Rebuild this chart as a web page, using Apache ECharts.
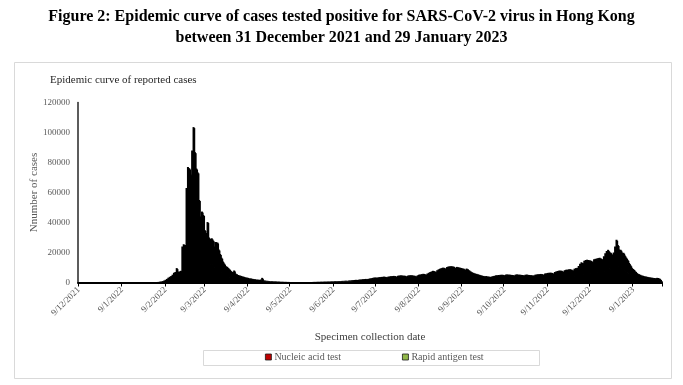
<!DOCTYPE html>
<html>
<head>
<meta charset="utf-8">
<script src="https://cdn.jsdelivr.net/npm/echarts@6/dist/echarts.min.js"></script>
<style>
html,body{margin:0;padding:0;background:#fff;}
#chart{width:683px;height:385px;}
</style>
</head>
<body>
<div id="chart"></div>
<script>
// ---- Data (daily cases by specimen collection date) ----
const axisStart = [2021, 12, 9];   // first category on the axis (9/12/2021)
const axisEnd = [2023, 1, 29];     // last category on the axis (29/1/2023)

const nucleicStart = '31/12/2021';
const nucleicTest = [
  5,
  // Jan 2022
  8,6,10,12,15,20,18,22,30,28,25,30,28,35,40,45,50,55,60,70,85,95,100,110,120,130,140,150,160,170,180,
  // Feb 2022 (1-25 all nucleic acid), 26-28
  200,260,330,420,550,700,950,1300,1800,2400,3200,3800,4300,5200,6500,7000,9600,7200,7400,7800,24000,25500,25000,63000,77000,46000,40000,48000,
  // Mar 2022
  55000,45000,38000,35000,25000,19000,21000,20000,15000,14000,17000,12500,12000,12500,11500,10000,11000,10700,9000,7500,6500,5500,5000,4400,4200,3800,3400,3000,2800,3200,2400,
  // Apr 2022
  2500,2200,2100,2000,1800,1700,1600,1500,1400,1300,1200,1100,1000,1000,900,850,800,900,1400,700,600,550,500,450,400,380,360,340,320,300,
  // May 2022
  270,250,230,220,200,190,180,170,160,150,140,130,130,120,120,110,120,120,130,130,140,140,150,160,170,180,190,200,220,230,240,
  // Jun 2022
  250,260,270,290,280,310,320,340,360,380,400,400,430,450,470,500,520,540,520,590,630,680,720,770,810,770,860,900,950,990,
  // Jul 2022
  1040,1080,1040,1130,1220,1310,1400,1490,1530,1440,1580,1620,1670,1710,1760,1710,1620,1760,1850,1890,1940,1980,1940,1800,2030,2120,2160,2120,2070,2030,1890,
  // Aug 2022
  2070,2160,2210,2160,2120,2030,1890,2160,2340,2430,2520,2610,2570,2390,2700,2930,3150,3330,3510,3420,3240,3690,3960,4140,4320,4460,4410,4230,4640,4820,4860,
  // Sep 2022
  4910,4860,4730,4410,4680,4590,4500,4370,4280,4140,3870,4190,3960,3600,3290,3060,2880,2700,2610,2480,2340,2210,2070,1980,1890,1940,1850,1760,1710,1800,
  // Oct 2022
  1940,2030,2160,2210,2250,2300,2340,2300,2210,2390,2430,2390,2340,2300,2250,2160,2390,2430,2390,2340,2300,2250,2160,2340,2390,2300,2250,2210,2160,2120,2340,
  // Nov 2022
  2430,2480,2520,2570,2520,2390,2700,2790,2880,2930,2970,2880,2750,3150,3330,3470,3560,3600,3510,3290,3690,3830,3870,3960,4010,3870,3650,4140,4320,4410,
  // Dec 2022
  4950,5630,6080,5850,6530,6750,6840,6750,6660,6530,6260,6980,7110,7200,7340,7430,7200,6980,7880,8780,9450,9810,9230,8910,8330,9000,10800,12830,11250,9900,9810,
  // Jan 2023
  9000,8910,8100,7430,6800,5850,5180,4410,4050,3600,3150,2700,2520,2340,2120,2030,1890,1800,1710,1620,1530,1490,1400,1350,1310,1400,1350,1130,720
];

const rapidAntigenStart = '26/2/2022';
const rapidAntigenTest = [
  // Feb 2022 (26-28)
  30000,32000,40000,
  // Mar 2022
  48600,41900,38000,38400,30000,25000,26300,25000,20000,19000,23300,17500,17000,17000,16500,14000,16000,16000,13000,11500,10000,8500,7500,6600,6300,5700,5100,4500,4200,4800,3600,
  // Apr 2022
  3000,2800,2600,2400,2300,2100,1900,1800,1700,1500,1500,1400,1300,1200,1100,1050,1000,1100,1700,800,700,650,600,550,500,470,440,410,380,350,
  // May 2022
  330,300,270,260,250,230,220,210,190,180,160,160,150,150,140,140,140,150,150,160,160,170,180,190,200,220,230,250,260,270,280,
  // Jun 2022
  300,320,330,350,340,370,400,420,440,470,500,480,520,550,580,600,630,660,630,710,770,820,880,930,990,930,1040,1100,1150,1210,
  // Jul 2022
  1260,1320,1260,1370,1480,1590,1700,1810,1870,1760,1920,1980,2030,2090,2140,2090,1980,2140,2250,2310,2360,2420,2360,2200,2470,2580,2640,2580,2530,2470,2310,
  // Aug 2022
  2530,2640,2690,2640,2580,2470,2310,2640,2860,2970,3080,3190,3130,2910,3300,3570,3850,4070,4290,4180,3960,4510,4840,5060,5280,5440,5390,5170,5660,5880,5940,
  // Sep 2022
  5990,5940,5770,5390,5720,5610,5500,5330,5220,5060,4730,5110,4840,4400,4010,3740,3520,3300,3190,3020,2860,2690,2530,2420,2310,2360,2250,2140,2090,2200,
  // Oct 2022
  2360,2470,2640,2690,2750,2800,2860,2800,2690,2910,2970,2910,2860,2800,2750,2640,2910,2970,2910,2860,2800,2750,2640,2860,2910,2800,2750,2690,2640,2580,2860,
  // Nov 2022
  2970,3020,3080,3130,3080,2910,3300,3410,3520,3570,3630,3520,3350,3850,4070,4230,4340,4400,4290,4010,4510,4670,4730,4840,4890,4730,4450,5060,5280,5390,
  // Dec 2022
  6050,6870,7420,7150,7970,8250,8360,8250,8140,7970,7640,8520,8690,8800,8960,9070,8800,8520,9620,10720,11550,11990,11270,10890,10170,11000,13200,15670,13750,12100,11990,
  // Jan 2023
  11000,10890,9900,9070,8300,7150,6320,5390,4950,4400,3850,3300,3080,2860,2580,2470,2310,2200,2090,1980,1870,1810,1700,1650,1590,1700,1650,1370,880
];

const yTicks = { min: 0, max: 120000, interval: 20000 };

// ---- Build category axis (one category per day) ----
const categories = [];
{
  let t = Date.UTC(axisStart[0], axisStart[1] - 1, axisStart[2]);
  const tEnd = Date.UTC(axisEnd[0], axisEnd[1] - 1, axisEnd[2]);
  while (t <= tEnd) {
    const d = new Date(t);
    categories.push(d.getUTCDate() + '/' + (d.getUTCMonth() + 1) + '/' + d.getUTCFullYear());
    t += 86400000;
  }
}
function toPairs(startLabel, arr) {
  const off = categories.indexOf(startLabel);
  return arr.map((v, i) => [off + i, v]);
}
const isNinth = (idx, val) => val.split('/')[0] === '9';

const serif = "'Liberation Serif', 'Times New Roman', serif";
const barStyle = { color: '#000', shadowColor: '#000', shadowBlur: 0, shadowOffsetX: 0.7, shadowOffsetY: 1 };
const chart = echarts.init(document.getElementById('chart'), null, { renderer: 'canvas' });
chart.setOption({
  animation: false,
  backgroundColor: '#ffffff',
  title: [
    {
      text: 'Figure 2: Epidemic curve of cases tested positive for SARS-CoV-2 virus in Hong Kong',
      left: 'center', top: 9, padding: 0,
      textStyle: { fontFamily: serif, fontWeight: 'bold', fontSize: 16, color: '#000' }
    },
    {
      text: 'between 31 December 2021 and 29 January 2023',
      left: 'center', top: 30, padding: 0,
      textStyle: { fontFamily: serif, fontWeight: 'bold', fontSize: 16, color: '#000' }
    },
    {
      text: 'Epidemic curve of reported cases',
      left: 50, top: 75,
      padding: 0,
      textStyle: { fontFamily: serif, fontWeight: 'normal', fontSize: 11, color: '#262626' }
    }
  ],
  graphic: [
    { type: 'rect', shape: { x: 14.5, y: 62.5, width: 657, height: 316 }, style: { fill: 'none', stroke: '#d9d9d9', lineWidth: 1 }, z: -1 },
    { type: 'rect', shape: { x: 203.5, y: 350.5, width: 336, height: 15 }, style: { fill: 'none', stroke: '#d9d9d9', lineWidth: 1 }, z: -1 }
  ],
  legend: {
    left: 265, top: 352,
    padding: 0,
    itemWidth: 6, itemHeight: 6, itemGap: 61,
    icon: 'rect',
    textStyle: { fontFamily: serif, fontSize: 10, color: '#595959', padding: [0, 0, 0, -2] },
    data: [
      { name: 'Nucleic acid test', itemStyle: { color: '#c00000', borderColor: '#1a1a1a', borderWidth: 0.8, shadowOffsetX: 0, shadowOffsetY: 0 } },
      { name: 'Rapid antigen test', itemStyle: { color: '#92b84a', borderColor: '#1a1a1a', borderWidth: 0.8, shadowOffsetX: 0, shadowOffsetY: 0 } }
    ]
  },
  grid: { left: 78, right: 21, top: 102.5, bottom: 102.5 },
  xAxis: {
    type: 'category',
    data: categories,
    boundaryGap: true,
    name: 'Specimen collection date',
    nameLocation: 'middle',
    nameGap: 49,
    nameMoveOverlap: false,
    nameTextStyle: { fontFamily: serif, fontSize: 11, color: '#404040' },
    axisLine: { lineStyle: { color: '#000', width: 2 } },
    axisTick: { show: true, interval: isNinth, length: 4, lineStyle: { color: '#000', width: 1 } },
    axisLabel: { interval: isNinth, rotate: 45, fontFamily: serif, fontSize: 9, color: '#595959', margin: 6 },
    splitLine: { show: false }
  },
  yAxis: {
    type: 'value',
    min: yTicks.min, max: yTicks.max, interval: yTicks.interval,
    name: 'Nnumber of cases',
    nameLocation: 'middle',
    nameGap: 38,
    nameMoveOverlap: false,
    nameTextStyle: { fontFamily: serif, fontSize: 11, color: '#595959' },
    axisLine: { show: true, lineStyle: { color: '#262626', width: 1.5 } },
    axisTick: { show: false },
    axisLabel: { fontFamily: serif, fontSize: 9, color: '#595959', margin: 8, formatter: (v) => String(v) },
    splitLine: { show: false }
  },
  series: [
    {
      name: 'Nucleic acid test', type: 'bar', stack: 'cases',
      barWidth: 2,
      itemStyle: barStyle,
      data: toPairs(nucleicStart, nucleicTest)
    },
    {
      name: 'Rapid antigen test', type: 'bar', stack: 'cases',
      barWidth: 2,
      itemStyle: barStyle,
      data: toPairs(rapidAntigenStart, rapidAntigenTest)
    }
  ]
});
</script>
</body>
</html>
